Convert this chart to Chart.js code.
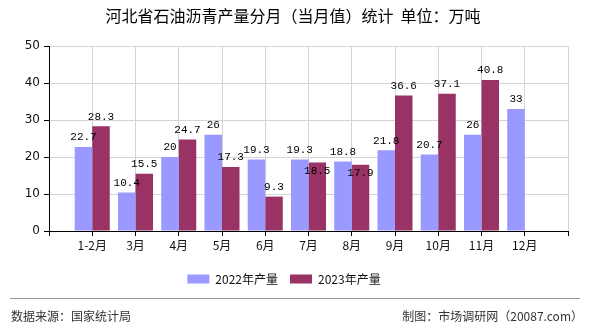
<!DOCTYPE html>
<html>
<head>
<meta charset="utf-8">
<script src="https://cdn.jsdelivr.net/npm/chart.js@4.4.0/dist/chart.umd.min.js"></script>
<style>
  html, body { margin: 0; padding: 0; background: #fff; }
  #wrap { width: 590px; height: 330px; position: relative; }
</style>
</head>
<body>
<div id="wrap"><canvas id="myChart" width="590" height="330"></canvas></div>
<script>
// data
var months = ['1-2月', '3月', '4月', '5月', '6月', '7月', '8月', '9月', '10月', '11月', '12月'];
var output2022 = [22.7, 10.4, 20, 26, 19.3, 19.3, 18.8, 21.8, 20.7, 26, 33];
var output2023 = [28.3, 15.5, 24.7, 17.3, 9.3, 18.5, 17.9, 36.6, 37.1, 40.8, null];
var yTicks = [0, 10, 20, 30, 40, 50];

var cjk = '"Noto Sans CJK SC", "Noto Sans", sans-serif';

// empty slot at each end so months sit on the grid lines
var labels = [''].concat(months, ['']);
function pad(arr) { return [null].concat(arr, [null]); }

// title, footer and value labels
var extras = {
  id: 'extras',
  afterDatasetsDraw: function(chart) {
    var c = chart.ctx;
    var first = chart.getDatasetMeta(0).data;
    c.save();
    c.font = '11px "Liberation Mono", monospace';
    c.fillStyle = '#000';
    c.textAlign = 'center';
    chart.data.datasets.forEach(function(ds, i) {
      chart.getDatasetMeta(i).data.forEach(function(bar, j) {
        var v = ds.data[j];
        if (v === null || v === undefined) return;
        var other = chart.data.datasets[0].data[j];
        // second label drops into its bar when it would hit the first one
        if (i === 1 && other !== null && Math.abs(first[j].y - bar.y) < 14) {
          c.textBaseline = 'top';
          c.fillText(String(v), bar.x, bar.y + 3);
        } else {
          c.textBaseline = 'bottom';
          c.fillText(String(v), bar.x, bar.y - 4);
        }
      });
    });
    c.restore();
  },
  afterDraw: function(chart) {
    var c = chart.ctx;
    c.save();
    c.fillStyle = '#000';
    c.font = '16px ' + cjk;
    c.textAlign = 'center';
    c.textBaseline = 'middle';
    c.fillText('河北省石油沥青产量分月（当月值）统计  单位：万吨', 293, 16);

    c.strokeStyle = '#999';
    c.lineWidth = 1;
    c.beginPath();
    c.moveTo(10, 298.5);
    c.lineTo(580, 298.5);
    c.stroke();

    c.fillStyle = '#333';
    c.font = '12px ' + cjk;
    c.textAlign = 'left';
    c.fillText('数据来源：国家统计局', 11, 316);
    c.textAlign = 'right';
    c.fillText('制图：市场调研网（20087.com）', 583, 316);
    c.restore();
  }
};

var ctx = document.getElementById('myChart').getContext('2d');
var myChart = new Chart(ctx, {
  type: 'bar',
  data: {
    labels: labels,
    datasets: [{
      label: '2022年产量',
      data: pad(output2022),
      backgroundColor: '#9999ff'
    }, {
      label: '2023年产量',
      data: pad(output2023),
      backgroundColor: '#993366'
    }]
  },
  options: {
    responsive: false,
    animation: false,
    layout: { padding: { left: 0, right: 22, top: 46, bottom: 35 } },
    datasets: { bar: { categoryPercentage: 0.81, barPercentage: 1 } },
    plugins: {
      title: { display: false },
      tooltip: { enabled: false },
      legend: {
        position: 'bottom',
        labels: {
          boxWidth: 22,
          boxHeight: 9,
          padding: 12,
          color: '#111',
          font: { size: 12, family: cjk }
        }
      }
    },
    scales: {
      x: {
        offset: false,
        afterFit: function(s) { s.height = 30; },
        grid: { offset: false, color: '#d4d4d4', tickColor: '#000', tickLength: 5 },
        border: { color: '#000', width: 1 },
        ticks: {
          autoSkip: false,
          maxRotation: 0,
          padding: 2,
          color: '#111',
          font: { size: 12, family: cjk }
        }
      },
      y: {
        min: 0,
        max: 50,
        afterFit: function(s) { s.width = 49; },
        afterBuildTicks: function(s) { s.ticks = yTicks.map(function(v) { return { value: v }; }); },
        grid: { color: '#d4d4d4', tickColor: '#000', tickLength: 5 },
        border: { color: '#000', width: 1 },
        ticks: {
          padding: 4,
          color: '#111',
          font: { size: 12, family: '"DejaVu Sans", sans-serif' }
        }
      }
    }
  },
  plugins: [extras]
});
</script>
</body>
</html>
